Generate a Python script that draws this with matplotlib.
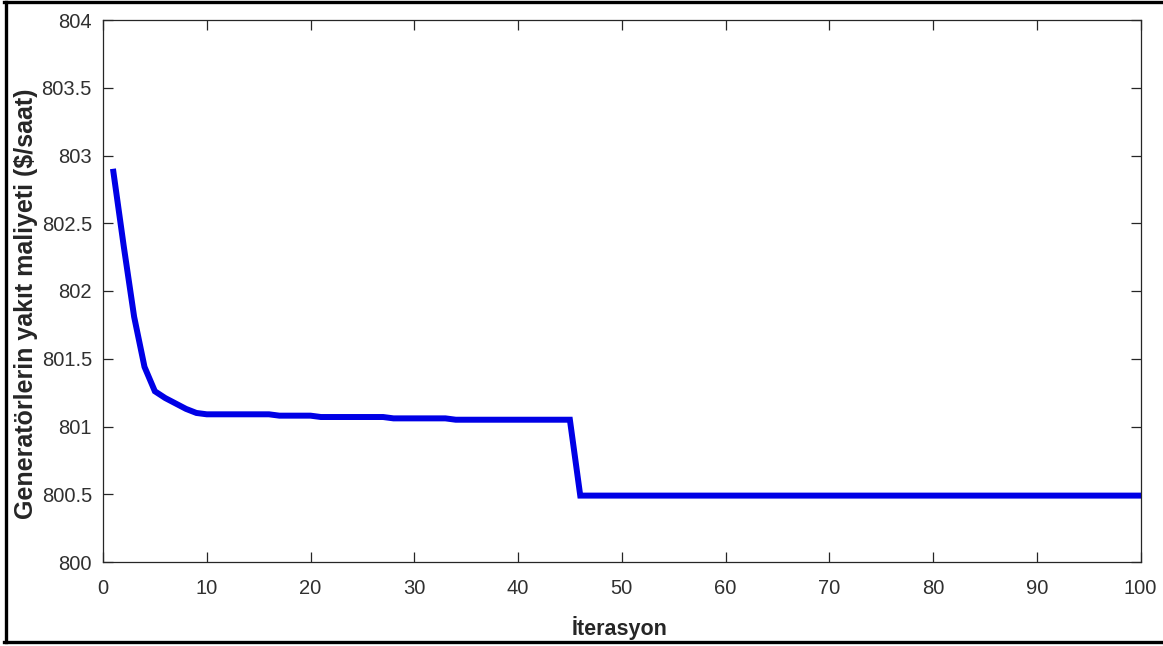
import matplotlib.pyplot as plt
from matplotlib.lines import Line2D

# Convergence of generator fuel cost per iteration (breakpoints of the curve)
iterations = [1, 2, 3, 4, 5, 6, 7, 8, 9, 10, 16, 17, 20, 21, 27, 28, 33, 34, 45, 46, 100]
fuel_cost = [802.88, 802.33, 801.81, 801.44, 801.26, 801.21, 801.17, 801.13, 801.10,
             801.09, 801.09, 801.08, 801.08, 801.07, 801.07, 801.06, 801.06, 801.05,
             801.05, 800.49, 800.49]

x_ticks = [0, 10, 20, 30, 40, 50, 60, 70, 80, 90, 100]
y_ticks = [800, 800.5, 801, 801.5, 802, 802.5, 803, 803.5, 804]
y_tick_labels = ["800", "800.5", "801", "801.5", "802", "802.5", "803", "803.5", "804"]

W, H = 1163, 646
fig = plt.figure(figsize=(W / 100, H / 100), dpi=100)
ax = fig.add_axes([103 / W, 1 - 562 / H, (1140.5 - 103) / W, (562 - 20) / H])

ax.plot(iterations, fuel_cost, color="#0000e6", linewidth=4.3, solid_joinstyle="miter")

ax.set_xlim(0, 100)
ax.set_ylim(800, 804)
ax.set_xticks(x_ticks)
ax.set_yticks(y_ticks)
ax.set_yticklabels(y_tick_labels)

font_list = ["Liberation Sans", "DejaVu Sans"]
for lbl in ax.get_xticklabels() + ax.get_yticklabels():
    lbl.set_fontfamily(font_list)
    lbl.set_fontsize(14.5)
    lbl.set_color("#303030")

ax.tick_params(direction="in", length=7.5, width=0.9, color="#262626",
               top=True, right=True)
ax.tick_params(axis="x", pad=12)
ax.tick_params(axis="y", pad=8)
for sp in ax.spines.values():
    sp.set_linewidth(0.9)
    sp.set_color("#262626")

fig.text(620 / W, 1 - 628 / H, "İterasyon", ha="center", va="center",
         fontsize=15.5, fontweight="bold", family=font_list, color="#262626")
fig.text(26 / W, 1 - 304 / H, "Generatörlerin yakıt maliyeti ($/saat)", ha="center",
         va="center", rotation=90, fontsize=18, fontweight="bold",
         family=font_list, color="#262626")

# black frame around the figure (open on the right)
frame = dict(color="black", linewidth=2.4, transform=fig.transFigure)
fig.add_artist(Line2D([5.5 / W, 5.5 / W], [1 - 2 / H, 1 - 641.5 / H], **frame))
fig.add_artist(Line2D([4 / W, 1], [1 - 2 / H, 1 - 2 / H], **frame))
fig.add_artist(Line2D([4 / W, 1], [1 - 641.5 / H, 1 - 641.5 / H], **frame))

fig.savefig("out.png", dpi=100)
